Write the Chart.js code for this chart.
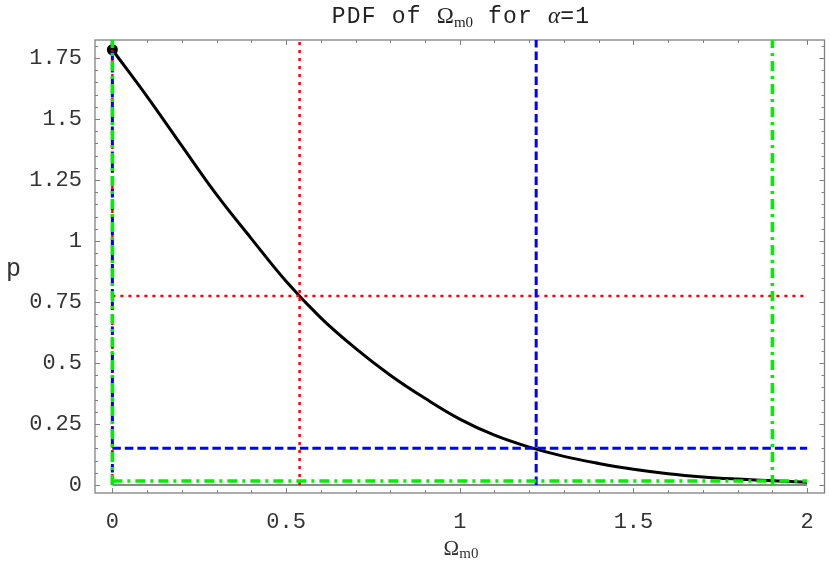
<!DOCTYPE html>
<html>
<head>
<meta charset="utf-8">
<script src="https://cdn.jsdelivr.net/npm/chart.js@4/dist/chart.umd.min.js"></script>
<style>
  html, body { margin:0; padding:0; background:#fff; }
  #wrap { position:relative; width:830px; height:564px; overflow:hidden; }
  canvas { position:absolute; left:0; top:0; }
  .mono { font-family:"Liberation Mono", "Courier New", monospace; }
  .serif { font-family:"Liberation Serif", "Times New Roman", serif; }
  #title { position:absolute; left:0; width:922px; top:3px; text-align:center; font-size:23px; color:#222; white-space:pre; letter-spacing:1.2px; }
  #title .serif { font-size:23px; letter-spacing:0; }
  #title sub { font-size:15px; vertical-align:-4px; line-height:0; }
  #xlabel { position:absolute; left:0; width:922px; top:536px; text-align:center; color:#333; font-size:21px; line-height:24px; }
  #xlabel sub { font-size:15px; vertical-align:-3px; line-height:0; }
  #ylabel { position:absolute; left:6px; top:255px; font-size:25px; color:#333; }
</style>
</head>
<body>
<div id="wrap">
  <canvas id="c" width="830" height="564"></canvas>
  <div id="title"><span class="mono">PDF of </span><span class="serif">Ω<sub>m0</sub></span><span class="mono"> for </span><i class="serif">α</i><span class="mono">=1</span></div>
  <div id="xlabel" class="serif">Ω<sub>m0</sub></div>
  <div id="ylabel" class="mono">p</div>
</div>
<script>
// ---- data ----
const curveX = [0, 0.1, 0.2, 0.3, 0.4, 0.5, 0.6, 0.7, 0.8, 0.9, 1.0, 1.1, 1.2, 1.3, 1.4, 1.5, 1.6, 1.7, 1.8, 1.9, 2.0];
const curveY = [1.784, 1.592, 1.39, 1.19, 1.01, 0.835, 0.685, 0.56, 0.45, 0.355, 0.27, 0.204, 0.155, 0.117, 0.088, 0.064, 0.046, 0.033, 0.024, 0.017, 0.011];
const peakPoint = [0, 1.784];
const redLevel = [0.539, 0.775];    // [x, p]
const blueLevel = [1.22, 0.150];
const greenLevel = [1.90, 0.0164];
const xTickValues = [0, 0.5, 1, 1.5, 2];
const xTickLabels = ["0", "0.5", "1", "1.5", "2"];
const yTickValues = [0, 0.25, 0.5, 0.75, 1, 1.25, 1.5, 1.75];
const yTickLabels = ["0", "0.25", "0.5", "0.75", "1", "1.25", "1.5", "1.75"];
const xRange = [-0.05, 2.05];
const yRange = [-0.033, 1.824];
const xMinorStep = 0.1;
const yMinorStep = 0.05;

function seg(x1, y1, x2, y2) { return [{x:x1, y:y1}, {x:x2, y:y2}]; }
function levelSets(level, color, dash, width, order) {
  const common = { showLine:true, pointRadius:0, borderColor:color, borderWidth:width, borderDash:dash, borderCapStyle:'butt', order:order, fill:false };
  return [
    Object.assign({ data: seg(0, 0, 0, yRange[1] + 0.1) }, common),
    Object.assign({ data: seg(level[0], 0, level[0], yRange[1] + 0.1) }, common),
    Object.assign({ data: seg(0, level[1], 2, level[1]) }, common)
  ];
}

const datasets = [
  { data: seg(0, 0, 2, 0), showLine:true, pointRadius:0, borderColor:'#8a8a8a', borderWidth:2, order:7 },
  { data: curveX.map((x, i) => ({x, y: curveY[i]})), showLine:true, pointRadius:0, borderColor:'#000', borderWidth:3, tension:0.4, order:6 },
  { data: [{x: peakPoint[0], y: peakPoint[1]}], showLine:false, pointRadius:5.5, pointBackgroundColor:'#000', pointBorderWidth:0, order:5 },
  ...levelSets(redLevel, '#ff0000', [3, 5], 2.5, 4),
  ...levelSets(blueLevel, '#0000ff', [8.5, 4], 3, 3),
  ...levelSets(greenLevel, '#00ee00', [10, 5, 3, 5], 3.5, 2)
];

const framePlugin = {
  id: 'frame',
  beforeDatasetsDraw(chart) {
    const ctx = chart.ctx, a = chart.chartArea;
    const xs = chart.scales.x, ys = chart.scales.y;
    ctx.save();
    ctx.strokeStyle = '#808080';
    ctx.lineWidth = 1.3;
    ctx.strokeRect(a.left, a.top, a.right - a.left, a.bottom - a.top);
    ctx.lineWidth = 1;
    ctx.beginPath();
    for (let k = 0; k <= Math.round(2 / xMinorStep); k++) {
      const v = k * xMinorStep;
      const px = Math.round(xs.getPixelForValue(v)) + 0.5;
      const len = (k % 5 === 0) ? 5 : 3;
      ctx.moveTo(px, a.bottom); ctx.lineTo(px, a.bottom - len);
      ctx.moveTo(px, a.top); ctx.lineTo(px, a.top + len);
    }
    for (let k = 0; k * yMinorStep <= yRange[1]; k++) {
      const v = k * yMinorStep;
      const py = Math.round(ys.getPixelForValue(v)) + 0.5;
      const len = (k % 5 === 0) ? 5 : 3;
      ctx.moveTo(a.left, py); ctx.lineTo(a.left + len, py);
      ctx.moveTo(a.right, py); ctx.lineTo(a.right - len, py);
    }
    ctx.stroke();
    ctx.restore();
  }
};

new Chart(document.getElementById('c'), {
  type: 'scatter',
  data: { datasets },
  plugins: [framePlugin],
  options: {
    responsive: false,
    animation: false,
    events: [],
    layout: { padding: { top: 40, right: 2, left: 0, bottom: 0 } },
    plugins: { legend: { display: false }, tooltip: { enabled: false }, title: { display: false } },
    scales: {
      x: {
        type: 'linear', min: xRange[0], max: xRange[1],
        grid: { display: false, drawTicks: false },
        border: { display: false },
        afterBuildTicks: s => { s.ticks = xTickValues.map(v => ({ value: v })); },
        afterFit: s => { s.height = 71; },
        ticks: {
          padding: 16, color: '#333', maxRotation: 0, autoSkip: false,
          font: { family: '"Liberation Mono", monospace', size: 22 },
          callback: (v) => { const i = xTickValues.indexOf(v); return i >= 0 ? xTickLabels[i] : ''; }
        }
      },
      y: {
        type: 'linear', min: yRange[0], max: yRange[1],
        grid: { display: false, drawTicks: false },
        border: { display: false },
        afterBuildTicks: s => { s.ticks = yTickValues.map(v => ({ value: v })); },
        afterFit: s => { s.width = 95; },
        ticks: {
          padding: 13, color: '#333', autoSkip: false,
          font: { family: '"Liberation Mono", monospace', size: 22 },
          callback: (v) => { const i = yTickValues.indexOf(v); return i >= 0 ? yTickLabels[i] : ''; }
        }
      }
    }
  }
});
</script>
</body>
</html>
